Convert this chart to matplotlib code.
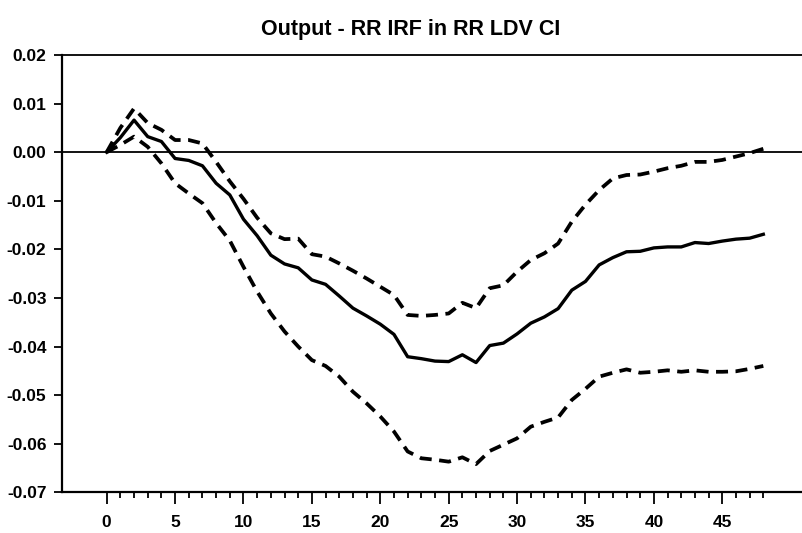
import matplotlib
matplotlib.use("Agg")
import matplotlib.pyplot as plt
from matplotlib import font_manager

horizon = list(range(0, 49))

irf = [0.0, 0.003, 0.0066, 0.0032, 0.0022, -0.0013, -0.0017, -0.0028, -0.0064, -0.0088,
       -0.0138, -0.0172, -0.0212, -0.0230, -0.0238, -0.0263, -0.0272, -0.0296, -0.0321, -0.0337,
       -0.0354, -0.0375, -0.0421, -0.0425, -0.0430, -0.0431, -0.0417, -0.0433, -0.0398, -0.0393,
       -0.0374, -0.0352, -0.0339, -0.0322, -0.0284, -0.0266, -0.0232, -0.0217, -0.0205, -0.0204,
       -0.0197, -0.0195, -0.0195, -0.0186, -0.0188, -0.0183, -0.0179, -0.0177, -0.0169]

upper = [0.0, 0.005, 0.0090, 0.0060, 0.0046, 0.0025, 0.0025, 0.0018, -0.0020, -0.0060,
         -0.0096, -0.0135, -0.0167, -0.0179, -0.0178, -0.0210, -0.0215, -0.0229, -0.0244, -0.0260,
         -0.0277, -0.0294, -0.0335, -0.0337, -0.0335, -0.0332, -0.0310, -0.0321, -0.0280, -0.0274,
         -0.0246, -0.0222, -0.0208, -0.0188, -0.0143, -0.0108, -0.0078, -0.0054, -0.0047, -0.0046,
         -0.0040, -0.0033, -0.0028, -0.0020, -0.0020, -0.0016, -0.0009, -0.0002, 0.0007]

lower = [0.0, 0.0015, 0.0032, 0.0011, -0.0023, -0.0064, -0.0085, -0.0105, -0.0146, -0.0182,
         -0.0236, -0.0287, -0.0332, -0.0369, -0.0400, -0.0428, -0.0440, -0.0462, -0.0493, -0.0517,
         -0.0544, -0.0575, -0.0616, -0.0630, -0.0633, -0.0637, -0.0628, -0.0642, -0.0615, -0.0602,
         -0.0589, -0.0565, -0.0555, -0.0546, -0.0510, -0.0487, -0.0462, -0.0454, -0.0447, -0.0454,
         -0.0452, -0.0449, -0.0452, -0.0449, -0.0452, -0.0452, -0.0451, -0.0446, -0.0440]

title = "Output - RR IRF in RR LDV CI"
xtick_vals = [0, 5, 10, 15, 20, 25, 30, 35, 40, 45]
ytick_vals = [0.02, 0.01, 0.0, -0.01, -0.02, -0.03, -0.04, -0.05, -0.06, -0.07]
ytick_labels = ["0.02", "0.01", "0.00", "-0.01", "-0.02", "-0.03", "-0.04", "-0.05", "-0.06", "-0.07"]

names = {f.name for f in font_manager.fontManager.ttflist}
fam = ["Liberation Sans Narrow", "Liberation Sans", "DejaVu Sans"] if "Liberation Sans Narrow" in names else ["Liberation Sans", "DejaVu Sans"]
plt.rcParams["font.family"] = fam

fig = plt.figure(figsize=(8.03, 5.33), dpi=100)
ax = fig.add_axes([0.0768, 0.0764, 0.9232, 0.8204])

ax.plot(horizon, irf, color="black", lw=2.4, solid_joinstyle="round")
ax.plot(horizon, upper, color="black", lw=2.7, dashes=(3.2, 2.0))
ax.plot(horizon, lower, color="black", lw=2.7, dashes=(3.2, 2.0))
ax.axhline(0, color="black", lw=1.3)

ax.set_xlim(-3.29, 50.9)
ax.set_ylim(-0.07, 0.02)

ax.spines["right"].set_visible(False)
ax.spines["top"].set_linewidth(1.3)
ax.spines["left"].set_linewidth(1.6)
ax.spines["bottom"].set_linewidth(1.6)

ax.set_xticks(xtick_vals)
ax.set_xticks(horizon, minor=True)
ax.set_xticklabels([str(v) for v in xtick_vals], fontsize=12.5, fontweight="bold")
ax.set_yticks(ytick_vals)
ax.set_yticklabels(ytick_labels, fontsize=12.5, fontweight="bold")
ax.tick_params(axis="x", which="major", length=8.5, width=1.3, direction="out", pad=8)
ax.tick_params(axis="x", which="minor", length=4.3, width=1.3, direction="out")
ax.tick_params(axis="y", which="major", length=6, width=1.3, direction="out", pad=5)

fig.text(0.511, 0.945, title, ha="center", va="center", fontsize=15.5, fontweight="bold")

fig.savefig("out.png", dpi=100)
